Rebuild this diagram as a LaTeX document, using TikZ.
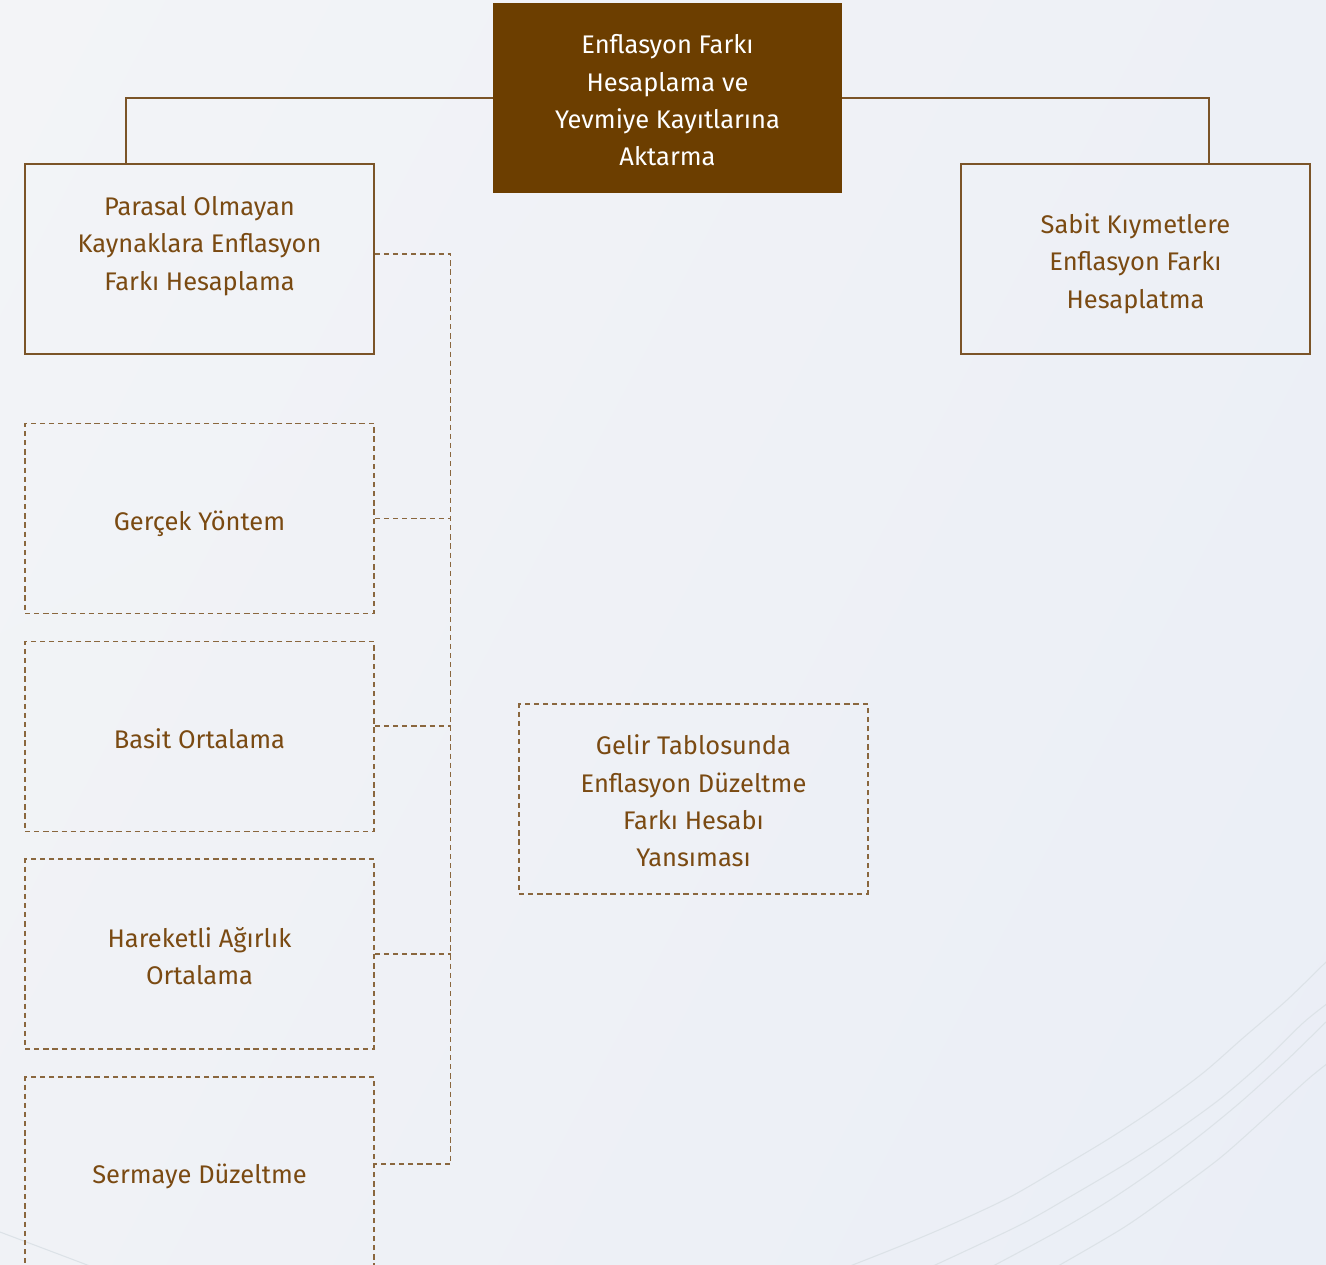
\documentclass[tikz,border=0pt]{standalone}
\usepackage{fontspec}
\setmainfont{Fira Sans}
\usetikzlibrary{shadings}
\definecolor{headbrown}{HTML}{6C3E00}
\definecolor{textbrown}{HTML}{7A4A12}
\definecolor{linebrown}{HTML}{7B5428}
\definecolor{dashbrown}{HTML}{8A673E}
\definecolor{bgtl}{HTML}{F3F4F7}
\definecolor{bgtr}{HTML}{EDF0F6}
\definecolor{bgbl}{HTML}{F0F2F6}
\definecolor{bgbr}{HTML}{EAEEF6}
\definecolor{swirl}{HTML}{DCE2E7}
% strut for the first line of a box text
\newcommand{\boxstrut}{\rule{0pt}{17.4pt}}
\begin{document}
\begin{tikzpicture}[x=0.02cm, y=-0.02cm,
    box/.style={minimum width=6.98cm, minimum height=3.8cm, align=center,
      inner sep=0pt, font=\fontsize{14.5}{21.3}\selectfont,
      execute at end node={\rule[-4pt]{0pt}{0pt}}},
    solidbox/.style={box, draw=linebrown, line width=0.75pt, text=textbrown},
    dashbox/.style={box, draw=dashbrown, line width=0.95pt,
      dash pattern=on 3pt off 2.2pt, text=textbrown},
    headbox/.style={box, fill=headbrown, text=white},
    link/.style={draw=linebrown, line width=0.75pt},
    dashlink/.style={draw=dashbrown, line width=0.95pt, dash pattern=on 3pt off 2.2pt}]
    \useasboundingbox (0,0) rectangle (1326,1265);
    % background
    \shade[upper left=bgtl, upper right=bgtr, lower left=bgbl, lower right=bgbr]
      (0,0) rectangle (1326,1265);
    \begin{scope}[draw=swirl, line width=0.6pt]
    \draw plot[smooth] coordinates {(850,1266) (903,1245) (957,1222) (1010,1197)
      (1060,1168) (1110,1138) (1157,1107) (1203,1073) (1243,1038) (1287,1000) (1328,960)};
    \draw plot[smooth] coordinates {(933,1266) (1020,1225) (1073,1195) (1127,1163)
      (1173,1133) (1220,1099) (1263,1062) (1303,1023) (1328,1003)};
    \draw plot[smooth] coordinates {(993,1266) (1060,1230) (1110,1200) (1157,1168)
      (1203,1133) (1243,1100) (1287,1060) (1328,1020)};
    \draw plot[smooth] coordinates {(1058,1266) (1123,1228) (1173,1193) (1220,1158)
      (1263,1120) (1307,1080) (1328,1063)};
    \draw (0,1232) -- (90,1266);
    \end{scope}
    % boxes
    \node[headbox] (top) at (667.5,98)
      {\boxstrut Enflasyon Farkı\\Hesaplama ve\\Yevmiye Kayıtlarına\\Aktarma};
    \node[solidbox, label={[box, text=textbrown, yshift=0.36cm]center:\boxstrut Parasal Olmayan\\Kaynaklara Enflasyon\\Farkı Hesaplama}]
      (parasal) at (199.5,259) {};
    \node[solidbox] (sabit) at (1135.5,259)
      {\boxstrut Sabit Kıymetlere\\Enflasyon Farkı\\Hesaplatma};
    \node[dashbox] (gercek) at (199.5,518.5) {\boxstrut Gerçek Yöntem};
    \node[dashbox] (basit) at (199.5,736.5) {\boxstrut Basit Ortalama};
    \node[dashbox] (hareketli) at (199.5,954) {\boxstrut Hareketli Ağırlık\\Ortalama};
    \node[dashbox] (sermaye) at (199.5,1172) {\boxstrut Sermaye Düzeltme};
    \node[dashbox] (gelir) at (693.5,799)
      {\boxstrut Gelir Tablosunda\\Enflasyon Düzeltme\\Farkı Hesabı\\Yansıması};
    % connectors
    \draw[link] (top.west) -| ([xshift=-1.47cm]parasal.north);
    \draw[link] (top.east) -| ([xshift=1.47cm]sabit.north);
    \draw[dashlink] ([yshift=0.1cm]parasal.east) -- ++(76,0)
      |- ([yshift=0.16cm]sermaye.east);
    \foreach \n/\s in {gercek/0, basit/0.21, hareketli/0}
      \draw[dashlink] ([yshift=\s cm]\n.east) -- ++(76,0);
\end{tikzpicture}
\end{document}
